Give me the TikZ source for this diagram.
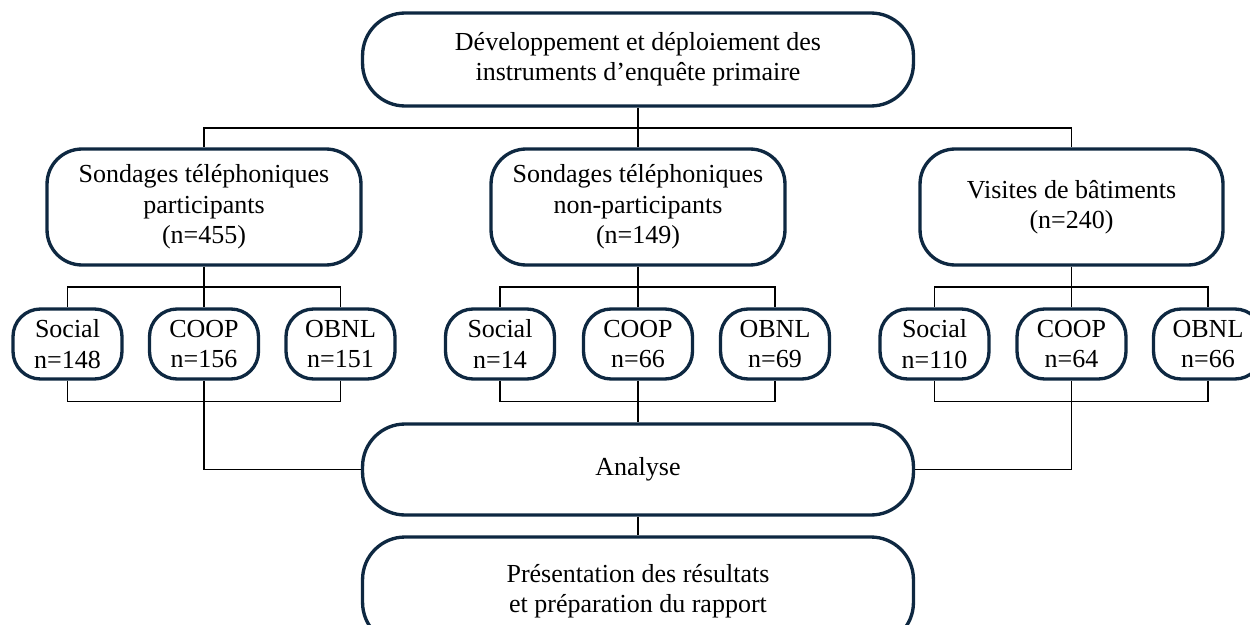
\documentclass[tikz,border=0pt]{standalone}
\usepackage{fontspec}
\setmainfont{Liberation Serif}
\definecolor{navy}{HTML}{0E2841}
\begin{document}
\begin{tikzpicture}[x=0.02cm,y=-0.02cm,
  font=\fontsize{14.8}{17.3}\selectfont,
  box/.style={draw=navy,line width=1.9pt,rectangle,align=center,inner sep=0pt},
  bigbox/.style={box,minimum width=11.02cm,rounded corners=0.85cm},
  midbox/.style={box,minimum height=2.32cm,rounded corners=0.7cm},
  smallbox/.style={box,minimum width=2.18cm,minimum height=1.4cm,rounded corners=0.55cm},
  link/.style={draw=black,line width=0.6pt}]
\useasboundingbox (0,0) rectangle (1250,625);
% top
\node[bigbox,minimum height=1.86cm] (top) at (638,59.5) {Développement et déploiement des\\instruments d’enquête primaire};
% row 2
\node[midbox,minimum width=6.28cm] (p1) at (204,207) {Sondages téléphoniques\\participants\\(n=455)};
\node[midbox,minimum width=5.88cm] (p2) at (638,207) {Sondages téléphoniques\\non-participants\\(n=149)};
\node[midbox,minimum width=6.06cm] (p3) at (1071.5,207) {Visites de bâtiments\\(n=240)};
% row 3
\node[smallbox] (s1) at (67.5,344) {Social\\n=148};
\node[smallbox] (c1) at (204,344) {COOP\\n=156};
\node[smallbox] (o1) at (340.5,344) {OBNL\\n=151};
\node[smallbox] (s2) at (500,344) {Social\\n=14};
\node[smallbox] (c2) at (638,344) {COOP\\n=66};
\node[smallbox] (o2) at (775,344) {OBNL\\n=69};
\node[smallbox] (s3) at (934.5,344) {Social\\n=110};
\node[smallbox] (c3) at (1071.5,344) {COOP\\n=64};
\node[smallbox] (o3) at (1208,344) {OBNL\\n=66};
% analyse and final
\node[bigbox,minimum height=1.82cm] (an) at (638,469.5) {Analyse};
\node[bigbox,minimum height=2.16cm] (fin) at (638,591) {Présentation des résultats\\et préparation du rapport};
% connectors: top to row 2
\coordinate (h) at (638,128);
\draw[link] (top.south) -- (h);
\draw[link] (h) -| (p1.north);
\draw[link] (h) -| (p3.north);
\draw[link] (h) -- (p2.north);
% row 2 to row 3
\coordinate (g1) at (204,287);
\coordinate (g2) at (638,287);
\coordinate (g3) at (1071.5,287);
\foreach \i in {1,2,3}{
  \draw[link] (p\i.south) -- (g\i);
  \draw[link] (g\i) -| (s\i.north);
  \draw[link] (g\i) -| (o\i.north);
  \draw[link] (g\i) -- (c\i.north);
}
% row 3 to analyse
\coordinate (b1) at (204,401.5);
\coordinate (b2) at (638,401.5);
\coordinate (b3) at (1071.5,401.5);
\foreach \i in {1,2,3}{
  \draw[link] (s\i.south) |- (b\i);
  \draw[link] (o\i.south) |- (b\i);
  \draw[link] (c\i.south) -- (b\i);
}
\draw[link] (b1) |- (an.west);
\draw[link] (b3) |- (an.east);
\draw[link] (b2) -- (an.north);
\draw[link] (an.south) -- (fin.north);
\end{tikzpicture}
\end{document}
